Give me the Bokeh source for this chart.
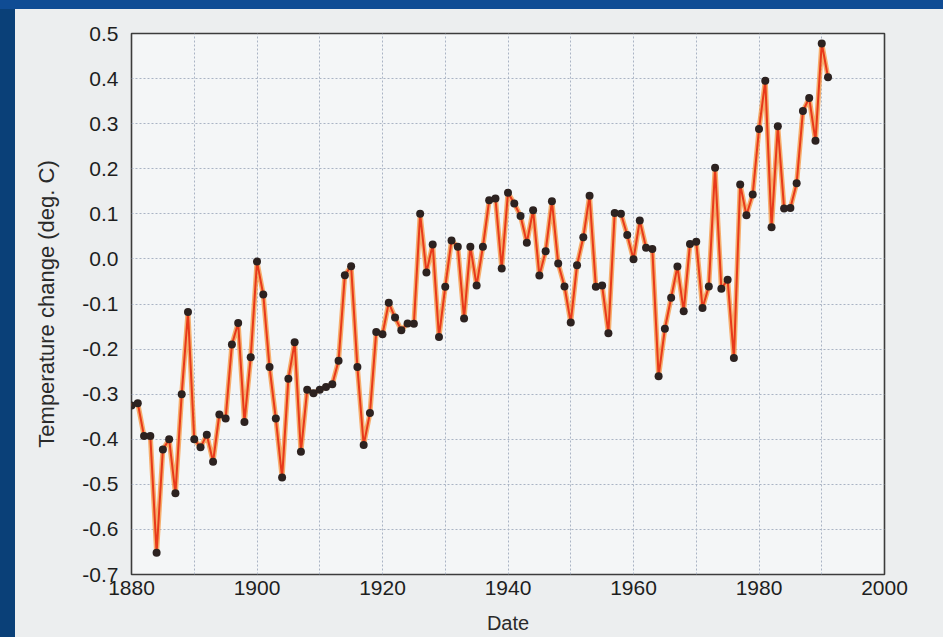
from bokeh.plotting import figure
from bokeh.embed import file_html
from bokeh.resources import INLINE
from bokeh.models import FixedTicker, PrintfTickFormatter, GlobalInlineStyleSheet

years = list(range(1880, 1992))
temp_change = [
    -0.325, -0.32, -0.393, -0.393, -0.652, -0.423, -0.40, -0.52, -0.30, -0.118,
    -0.40, -0.418, -0.39, -0.45, -0.345, -0.354, -0.19, -0.142, -0.362, -0.218,
    -0.006, -0.079, -0.24, -0.354, -0.485, -0.266, -0.185, -0.428, -0.29, -0.298,
    -0.29, -0.284, -0.278, -0.226, -0.036, -0.016, -0.24, -0.413, -0.342, -0.162,
    -0.167, -0.097, -0.13, -0.158, -0.143, -0.144, 0.10, -0.03, 0.032, -0.173,
    -0.062, 0.041, 0.027, -0.132, 0.027, -0.059, 0.027, 0.130, 0.134, -0.021,
    0.147, 0.123, 0.095, 0.036, 0.108, -0.037, 0.017, 0.128, -0.01, -0.061,
    -0.141, -0.014, 0.048, 0.140, -0.062, -0.059, -0.165, 0.102, 0.10, 0.053,
    -0.001, 0.085, 0.025, 0.022, -0.26, -0.155, -0.086, -0.017, -0.116, 0.033,
    0.038, -0.109, -0.061, 0.202, -0.066, -0.046, -0.22, 0.165, 0.097, 0.143,
    0.288, 0.395, 0.07, 0.294, 0.112, 0.113, 0.168, 0.328, 0.357, 0.262,
    0.478, 0.403,
]
x_ticks = [1880, 1900, 1920, 1940, 1960, 1980, 2000]
x_grid = [1880, 1890, 1900, 1910, 1920, 1930, 1940, 1950, 1960, 1970, 1980, 1990, 2000]
y_ticks = [-0.7, -0.6, -0.5, -0.4, -0.3, -0.2, -0.1, 0.0, 0.1, 0.2, 0.3, 0.4, 0.5]
x_title = "Date"
y_title = "Temperature change (deg. C)"

page_css = GlobalInlineStyleSheet(css="""
html, body { overflow: hidden; }
body {
  margin: 9px 0 0 15px;
  background-color: #eceeef;
  background-image: linear-gradient(to bottom, #0f4c94 9px, rgba(0,0,0,0) 9px),
                    linear-gradient(to right, #0a4078 15px, rgba(0,0,0,0) 15px);
}
""")

p = figure(width=928, height=628, x_range=(1880, 2000), y_range=(-0.7, 0.5),
           output_backend="svg", toolbar_location=None,
           min_border_left=116, min_border_right=59, min_border_top=24, min_border_bottom=63,
           stylesheets=[page_css])

p.border_fill_color = "#eceeef"
p.background_fill_color = "#f4f6f7"
p.outline_line_color = "#3c3c3c"
p.outline_line_width = 1.6

p.xaxis.ticker = FixedTicker(ticks=x_ticks)
p.yaxis.ticker = FixedTicker(ticks=y_ticks)
p.yaxis.formatter = PrintfTickFormatter(format="%.1f")
p.xgrid.ticker = FixedTicker(ticks=x_grid)
p.ygrid.ticker = FixedTicker(ticks=y_ticks)
for g in (p.xgrid, p.ygrid):
    g.grid_line_color = "#aab4c4"
    g.grid_line_dash = "2 2"
    g.grid_line_width = 1

for ax in (p.xaxis, p.yaxis):
    ax.axis_line_color = None
    ax.major_tick_line_color = None
    ax.minor_tick_line_color = None
    ax.major_tick_out = 0
    ax.major_tick_in = 0
    ax.major_label_text_font = "Liberation Sans"
    ax.major_label_text_font_size = "21px"
    ax.major_label_text_color = "#1e1e1e"
    ax.axis_label_text_font = "Liberation Sans"
    ax.axis_label_text_font_style = "normal"
    ax.axis_label_text_color = "#2a2a2a"

p.xaxis.axis_label = x_title
p.xaxis.axis_label_text_font_size = "20px"
p.xaxis.major_label_standoff = 6
p.xaxis.axis_label_standoff = 14
p.yaxis.axis_label = y_title
p.yaxis.axis_label_text_font_size = "22px"
p.yaxis.major_label_standoff = 13
p.yaxis.axis_label_standoff = 20

p.line(years, temp_change, line_color="#f7953f", line_width=5, line_alpha=0.75)
p.line(years, temp_change, line_color="#e8391a", line_width=2)
p.scatter(years, temp_change, size=8, fill_color="#2c2220", line_color=None)

open("out.html", "w").write(file_html(p, INLINE))
